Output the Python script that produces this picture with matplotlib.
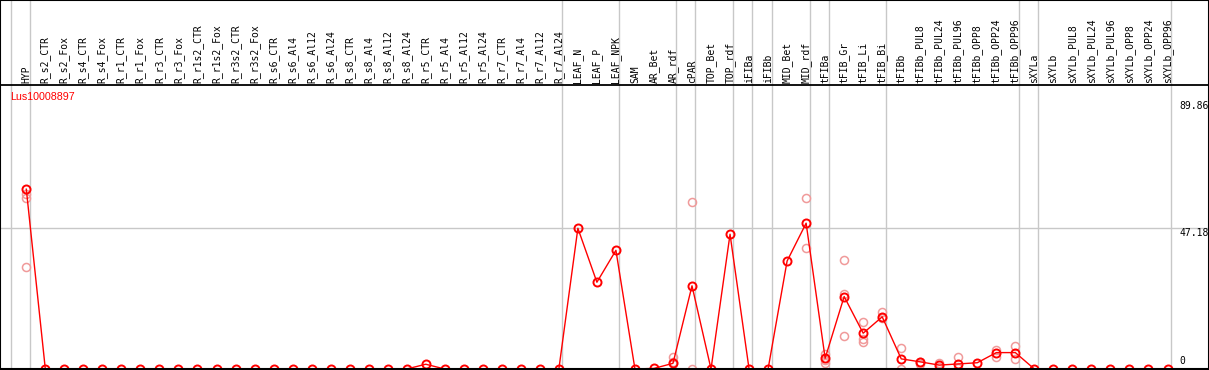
import numpy as np
import matplotlib.pyplot as plt

### Data ###

gene = "Lus10008897"

samples = ["HYP",
           "R_s2_CTR", "R_s2_Fox", "R_s4_CTR", "R_s4_Fox", "R_r1_CTR", "R_r1_Fox",
           "R_r3_CTR", "R_r3_Fox", "R_r1s2_CTR", "R_r1s2_Fox", "R_r3s2_CTR", "R_r3s2_Fox",
           "R_s6_CTR", "R_s6_Al4", "R_s6_Al12", "R_s6_Al24",
           "R_s8_CTR", "R_s8_Al4", "R_s8_Al12", "R_s8_Al24",
           "R_r5_CTR", "R_r5_Al4", "R_r5_Al12", "R_r5_Al24",
           "R_r7_CTR", "R_r7_Al4", "R_r7_Al12", "R_r7_Al24",
           "LEAF_N", "LEAF_P", "LEAF_NPK",
           "SAM", "AR_Bet", "AR_rdf", "cPAR", "TOP_Bet", "TOP_rdf",
           "iFIBa", "iFIBb", "MID_Bet", "MID_rdf", "tFIBa",
           "tFIB_Gr", "tFIB_Li", "tFIB_Bi",
           "tFIBb", "tFIBb_PUL8", "tFIBb_PUL24", "tFIBb_PUL96",
           "tFIBb_OPP8", "tFIBb_OPP24", "tFIBb_OPP96",
           "sXYLa", "sXYLb", "sXYLb_PUL8", "sXYLb_PUL24", "sXYLb_PUL96",
           "sXYLb_OPP8", "sXYLb_OPP24", "sXYLb_OPP96"]

means = [60.3,
         0, 0, 0, 0, 0, 0, 0, 0, 0, 0, 0, 0,
         0, 0, 0, 0,
         0, 0, 0, 0,
         1.6, 0, 0, 0,
         0, 0, 0, 0,
         47.2, 29.1, 39.8,
         0, 0.2, 1.9, 27.9, 0, 45.2,
         0, 0, 36.2, 48.9, 3.6,
         24.3, 12.0, 17.5,
         3.4, 2.4, 1.3, 1.7,
         2.1, 5.5, 5.5,
         0, 0, 0, 0, 0, 0, 0, 0]

# replicate values (light circles)
rep_samples = ["HYP", "AR_rdf", "cPAR", "MID_rdf", "tFIBa", "tFIB_Gr", "tFIB_Li",
               "tFIB_Bi", "tFIBb", "tFIBb_PUL8", "tFIBb_PUL24", "tFIBb_PUL96",
               "tFIBb_OPP24", "tFIBb_OPP96"]
rep_values = [[58.6, 57.5, 34.3], [4.1, 2.4], [56.1, 0], [57.2, 40.5],
              [5.0, 3.0, 2.1], [36.6, 25.2, 11.1], [15.7, 10.0, 9.0],
              [19.2, 17.0], [6.9, 0], [2.4, 1.7], [2.1, 0.7], [3.9, 0.2],
              [6.4, 4.1], [7.7, 3.4]]

# last sample of each tissue group (grey separators)
group_ends = ["HYP", "R_r7_Al24", "LEAF_NPK", "AR_rdf", "cPAR", "TOP_rdf", "iFIBa",
              "iFIBb", "MID_rdf", "tFIBa", "tFIB_Bi", "tFIBb_OPP96", "sXYLa", "sXYLb_OPP96"]

y_ticks = [0, 47.18, 89.86]

### Plot ###

W, H = 1209, 370
x0, dx = 26.3, 19.02     # pixel position of first sample, spacing
y0, dy = 369.0, 2.982    # pixel row of zero, pixels per unit

fig = plt.figure(figsize=(W / 100, H / 100), dpi=100)
ax = fig.add_axes([0, 0, 1, 1])
ax.set_xlim(-x0 / dx, (W - x0) / dx)
ax.set_ylim((y0 - H) / dy, y0 / dy)
ax.set_xticks([])
ax.set_yticks([])
for s in ax.spines.values():
    s.set_color("black")
    s.set_linewidth(1.5)

xs = np.arange(len(samples))
idx = {name: i for i, name in enumerate(samples)}

# separators
ax.axvline(-1 + 0.18, color="#c8c8c8", lw=1, zorder=1)
for name in group_ends:
    ax.axvline(idx[name] + 0.18, color="#c8c8c8", lw=1, zorder=1)
ax.axhline(47.18, color="#c8c8c8", lw=1, zorder=1)

# header
y_head = (y0 - 84.5) / dy
ax.axhline(y_head, color="black", lw=1.3, zorder=2)
for i, name in enumerate(samples):
    ax.text(i, (y0 - 83) / dy, name, rotation=90, ha="center", va="bottom",
            family="DejaVu Sans Mono", fontsize=7, color="black")

# replicates
for name, vals in zip(rep_samples, rep_values):
    ax.plot([idx[name]] * len(vals), vals, "o", ms=5.8, mfc="none",
            mec="#f09a9a", mew=1.1, zorder=3, clip_on=False)

# means
ax.plot(xs, means, "-", color="red", lw=1, zorder=4, clip_on=False)
ax.plot(xs, means, "o", ms=5.8, mfc="none", mec="red", mew=1.4, zorder=5, clip_on=False)
ax.axhline(0, color="black", lw=1.5, zorder=6)

# y labels
xl = (1179 - x0) / dx
ax.text(xl, y_ticks[2], "%.2f" % y_ticks[2], ha="left", va="top",
        family="DejaVu Sans Mono", fontsize=7)
ax.text(xl, y_ticks[1], "%.2f" % y_ticks[1], ha="left", va="top",
        family="DejaVu Sans Mono", fontsize=7)
ax.text(xl, 1.0, "0", ha="left", va="bottom", family="DejaVu Sans Mono", fontsize=7)

ax.text((10 - x0) / dx, (y0 - 97) / dy, gene, color="red", ha="left", va="center",
        family="Liberation Sans", fontsize=7.7)

plt.savefig("out.png", dpi=100)
